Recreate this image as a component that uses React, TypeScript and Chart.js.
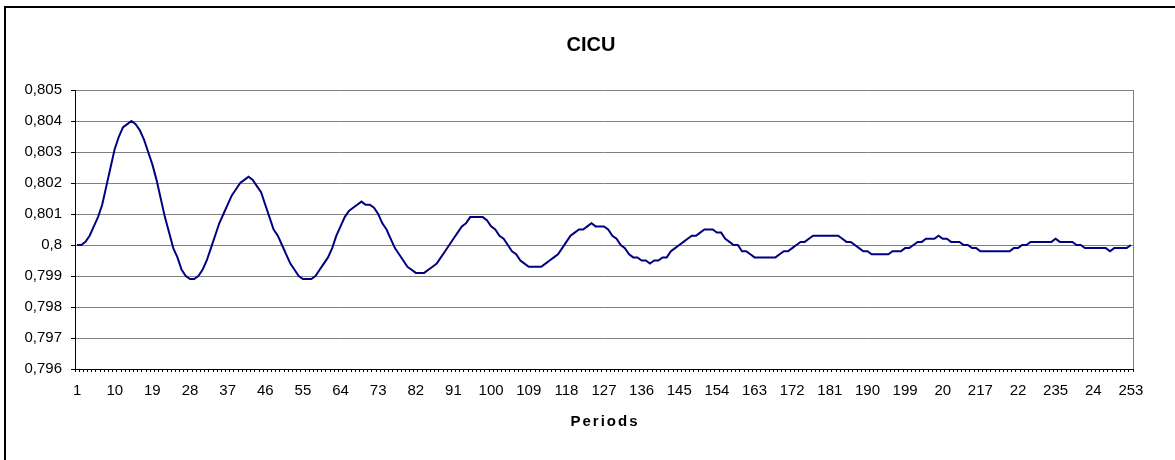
import React, { useEffect, useRef } from "react";
import { Chart, registerables } from "chart.js";

Chart.register(...registerables);

const TITLE = "CICU";
const X_TITLE = "Periods";

// Periods 1..253
const periods: string[] = Array.from({ length: 253 }, (_, i) => String(i + 1));

// Tick labels as printed on the axis (every 9th period)
const tickLabels: string[] = [
  "1", "10", "19", "28", "37", "46", "55", "64", "73", "82", "91", "100", "109",
  "118", "127", "136", "145", "154", "163", "172", "181", "190", "199", "20",
  "217", "22", "235", "24", "253",
];
const LABEL_STEP = 9;

const yTicksMin = 0.796;
const yTicksMax = 0.805;
const yTicksStep = 0.001;

const cicu: number[] = [
  // 0-9
  0.8000, 0.8000, 0.8001, 0.8003, 0.8006, 0.8009, 0.8013, 0.8019, 0.8025, 0.8031,
  // 10-19
  0.8035, 0.8038, 0.8039, 0.8040, 0.8039, 0.8037, 0.8034, 0.8030, 0.8026, 0.8021,
  // 20-29
  0.8015, 0.8009, 0.8004, 0.7999, 0.7996, 0.7992, 0.7990, 0.7989, 0.7989, 0.7990,
  // 30-39
  0.7992, 0.7995, 0.7999, 0.8003, 0.8007, 0.8010, 0.8013, 0.8016, 0.8018, 0.8020,
  // 40-49
  0.8021, 0.8022, 0.8021, 0.8019, 0.8017, 0.8013, 0.8009, 0.8005, 0.8003, 0.8000,
  // 50-59
  0.7997, 0.7994, 0.7992, 0.7990, 0.7989, 0.7989, 0.7989, 0.7990, 0.7992, 0.7994,
  // 60-69
  0.7996, 0.7999, 0.8003, 0.8006, 0.8009, 0.8011, 0.8012, 0.8013, 0.8014, 0.8013,
  // 70-79
  0.8013, 0.8012, 0.8010, 0.8007, 0.8005, 0.8002, 0.7999, 0.7997, 0.7995, 0.7993,
  // 80-89
  0.7992, 0.7991, 0.7991, 0.7991, 0.7992, 0.7993, 0.7994, 0.7996, 0.7998, 0.8000,
  // 90-99
  0.8002, 0.8004, 0.8006, 0.8007, 0.8009, 0.8009, 0.8009, 0.8009, 0.8008, 0.8006,
  // 100-109
  0.8005, 0.8003, 0.8002, 0.8000, 0.7998, 0.7997, 0.7995, 0.7994, 0.7993, 0.7993,
  // 110-119
  0.7993, 0.7993, 0.7994, 0.7995, 0.7996, 0.7997, 0.7999, 0.8001, 0.8003, 0.8004,
  // 120-129
  0.8005, 0.8005, 0.8006, 0.8007, 0.8006, 0.8006, 0.8006, 0.8005, 0.8003, 0.8002,
  // 130-139
  0.8000, 0.7999, 0.7997, 0.7996, 0.7996, 0.7995, 0.7995, 0.7994, 0.7995, 0.7995,
  // 140-149
  0.7996, 0.7996, 0.7998, 0.7999, 0.8000, 0.8001, 0.8002, 0.8003, 0.8003, 0.8004,
  // 150-159
  0.8005, 0.8005, 0.8005, 0.8004, 0.8004, 0.8002, 0.8001, 0.8000, 0.8000, 0.7998,
  // 160-169
  0.7998, 0.7997, 0.7996, 0.7996, 0.7996, 0.7996, 0.7996, 0.7996, 0.7997, 0.7998,
  // 170-179
  0.7998, 0.7999, 0.8000, 0.8001, 0.8001, 0.8002, 0.8003, 0.8003, 0.8003, 0.8003,
  // 180-189
  0.8003, 0.8003, 0.8003, 0.8002, 0.8001, 0.8001, 0.8000, 0.7999, 0.7998, 0.7998,
  // 190-199
  0.7997, 0.7997, 0.7997, 0.7997, 0.7997, 0.7998, 0.7998, 0.7998, 0.7999, 0.7999,
  // 200-209
  0.8000, 0.8001, 0.8001, 0.8002, 0.8002, 0.8002, 0.8003, 0.8002, 0.8002, 0.8001,
  // 210-219
  0.8001, 0.8001, 0.8000, 0.8000, 0.7999, 0.7999, 0.7998, 0.7998, 0.7998, 0.7998,
  // 220-229
  0.7998, 0.7998, 0.7998, 0.7998, 0.7999, 0.7999, 0.8000, 0.8000, 0.8001, 0.8001,
  // 230-239
  0.8001, 0.8001, 0.8001, 0.8001, 0.8002, 0.8001, 0.8001, 0.8001, 0.8001, 0.8000,
  // 240-249
  0.8000, 0.7999, 0.7999, 0.7999, 0.7999, 0.7999, 0.7999, 0.7998, 0.7999, 0.7999,
  // 250-252
  0.7999, 0.7999, 0.8000,
];

const FONT = "'Liberation Sans', Arial, Helvetica, sans-serif";

const decorPlugin = {
  id: "decor",
  afterDraw(chart: any) {
    const { ctx, chartArea } = chart;
    ctx.save();
    // right border of plot area
    ctx.strokeStyle = "#808080";
    ctx.lineWidth = 1;
    ctx.beginPath();
    ctx.moveTo(chartArea.right + 0.5, chartArea.top);
    ctx.lineTo(chartArea.right + 0.5, chartArea.bottom);
    ctx.stroke();
    // outer frame (left and top visible)
    ctx.fillStyle = "#000";
    ctx.fillRect(4, 6, 2, chart.height - 6);
    ctx.fillRect(4, 6, chart.width - 4, 2);
    // title
    ctx.fillStyle = "#000";
    ctx.textAlign = "center";
    ctx.textBaseline = "alphabetic";
    ctx.font = `bold 20px ${FONT}`;
    ctx.fillText(TITLE, 591, 51);
    // x axis title
    ctx.font = `bold 15px ${FONT}`;
    try {
      (ctx as any).letterSpacing = "2px";
    } catch (e) {}
    ctx.fillText(X_TITLE, (chartArea.left + chartArea.right) / 2 + 1, 426);
    try {
      (ctx as any).letterSpacing = "0px";
    } catch (e) {}
    ctx.restore();
  },
};

export default function App() {
  const ref = useRef<HTMLCanvasElement | null>(null);
  useEffect(() => {
    if (!ref.current) return;
    const chart = new Chart(ref.current, {
      type: "line",
      data: {
        labels: periods,
        datasets: [
          {
            label: TITLE,
            data: cicu,
            borderColor: "#000080",
            borderWidth: 2,
            pointRadius: 0,
            tension: 0,
            fill: false,
          },
        ],
      },
      options: {
        animation: false,
        responsive: false,
        devicePixelRatio: 1,
        layout: { padding: { top: 90, right: 42, left: 0, bottom: 0 } },
        plugins: {
          legend: { display: false },
          title: { display: false },
          tooltip: { enabled: false },
        },
        scales: {
          x: {
            type: "category",
            offset: true,
            grid: {
              display: true,
              drawOnChartArea: false,
              drawTicks: true,
              tickLength: 3,
              color: "#000",
              offset: true,
            },
            border: { display: true, color: "#000", width: 1 },
            ticks: {
              autoSkip: false,
              maxRotation: 0,
              minRotation: 0,
              padding: 10,
              color: "#000",
              font: { family: FONT, size: 15 },
              callback: (_v: any, i: number) =>
                i % LABEL_STEP === 0 ? tickLabels[i / LABEL_STEP] ?? "" : "",
            },
            afterFit: (s: any) => {
              s.height = 91;
            },
          },
          y: {
            min: yTicksMin,
            max: yTicksMax,
            ticks: {
              stepSize: yTicksStep,
              padding: 9,
              color: "#000",
              font: { family: FONT, size: 15 },
              callback: (v: any) =>
                parseFloat(Number(v).toFixed(3)).toString().replace(".", ","),
            },
            grid: {
              color: (c: any) => (c.index === 0 ? "#000" : "#808080"),
              tickColor: "#000",
              tickLength: 4,
              lineWidth: 1,
            },
            border: { display: true, color: "#000", width: 1 },
            afterFit: (s: any) => {
              s.width = 75;
            },
          },
        },
      },
      plugins: [decorPlugin],
    });
    return () => chart.destroy();
  }, []);
  return (
    <div style={{ position: "fixed", left: 0, top: 0, width: 1175, height: 460, background: "#fff" }}>
      <canvas ref={ref} width={1175} height={460} style={{ display: "block" }} />
    </div>
  );
}
